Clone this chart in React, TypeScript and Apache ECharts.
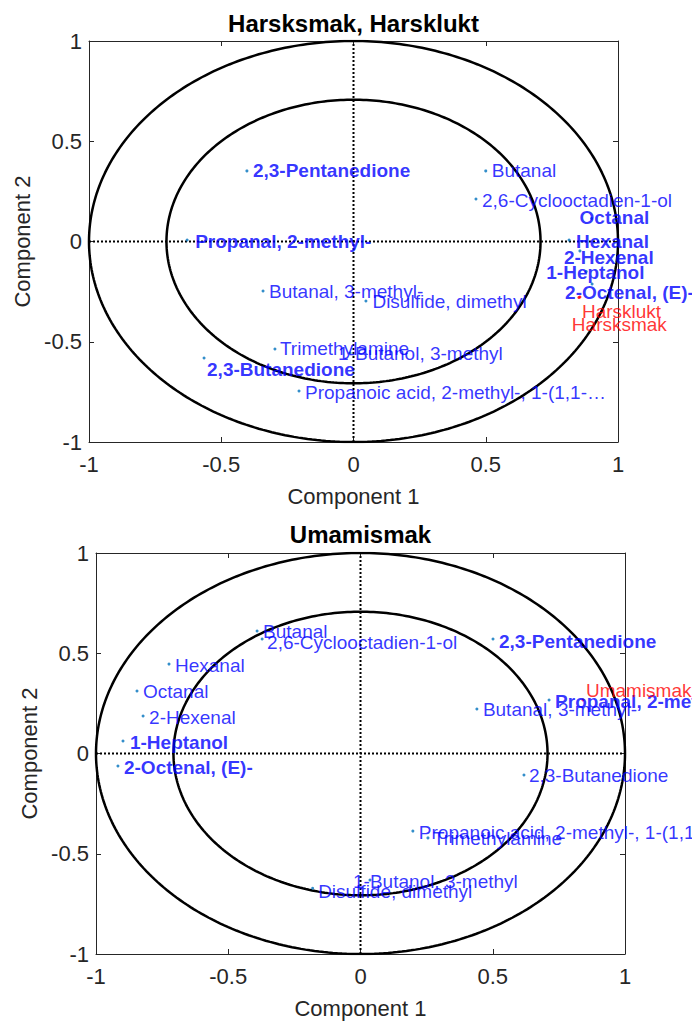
import React, { useEffect, useRef } from 'react';
import * as echarts from 'echarts';

// ---------- Top panel: Harsksmak, Harsklukt ----------
const topNames = [
  '2,3-Pentanedione', 'Butanal', '2,6-Cyclooctadien-1-ol', 'Octanal', 'Hexanal',
  '2-Hexenal', '1-Heptanol', '2-Octenal, (E)-', 'Propanal, 2-methyl-', 'Butanal, 3-methyl-',
  'Disulfide, dimethyl', 'Trimethylamine', '1-Butanol, 3-methyl', '2,3-Butanedione',
  'Propanoic acid, 2-methyl-, 1-(1,1-…',
];
const topX = [-0.403, 0.5, 0.463, 0.9, 0.815, 0.856, 0.88, 0.902, -0.629, -0.342, 0.047, -0.297, -0.013, -0.565, -0.206];
const topY = [0.352, 0.352, 0.212, 0.115, 0.007, -0.047, -0.15, -0.212, 0.007, -0.247, -0.297, -0.536, -0.556, -0.581, -0.746];
const topBold = [true, false, false, true, true, true, true, true, true, false, false, false, false, true, false];
const topAttrNames = ['Harsklukt', 'Harsksmak'];
const topAttrX = [0.856, 0.852];
const topAttrY = [-0.277, -0.279];

// label offsets (px) from each dot
const topLabelDx = [6, 6, 6, -12, 7, -16, -40, -27, 8, 6, 6.5, 5, -12, 3, 6];
const topLabelDy = [0, 0, 2, -0.5, 1, 7, 0.7, 8, 1.5, 0, 0.5, 0, 1, 12, 1];
const topAttrDx = [2, -7];
const topAttrDy = [14, 27];

// ---------- Bottom panel: Umamismak ----------
const botNames = [
  'Butanal', '2,6-Cyclooctadien-1-ol', 'Hexanal', 'Octanal', '2-Hexenal', '1-Heptanol',
  '2-Octenal, (E)-', '2,3-Pentanedione', 'Propanal, 2-methyl-', 'Butanal, 3-methyl-',
  '2,3-Butanedione', 'Propanoic acid, 2-methyl-, 1-(1,1-…', 'Trimethylamine',
  '1-Butanol, 3-methyl', 'Disulfide, dimethyl',
];
const botX = [-0.391, -0.372, -0.724, -0.845, -0.822, -0.898, -0.917, 0.501, 0.713, 0.44, 0.618, 0.198, 0.255, 0.036, -0.181];
const botY = [0.611, 0.571, 0.446, 0.312, 0.187, 0.062, -0.062, 0.571, 0.267, 0.222, -0.107, -0.387, -0.421, -0.631, -0.672];
const botBold = [false, false, false, false, false, true, true, true, true, false, false, false, false, false, false];
const botAttrNames = ['Umamismak'];
const botAttrX = [0.841];
const botAttrY = [0.267];

const botLabelDx = [6, 5, 6, 6, 6, 7, 6, 6, 6, 6, 5, 6, 5, -17, 5.5];
const botLabelDy = [1, 3, 1, 1, 1, 1, 2, 2, 2, 1, 1, 1, 1, 1.7, 3];
const botAttrDx = [3];
const botAttrDy = [-9];

const circleRadii = [1, Math.SQRT1_2];
const tickLabels = [-1, -0.5, 0, 0.5, 1];

const FONT = 'Liberation Sans, Arial, sans-serif';
const AXIS_COLOR = '#262626';
const DOT = 3;

function circlePoints(r: number) {
  const pts: number[][] = [];
  for (let i = 0; i <= 360; i++) {
    const a = (i * Math.PI) / 180;
    pts.push([r * Math.cos(a), r * Math.sin(a)]);
  }
  return pts;
}

function pointSeries(names: string[], xs: number[], ys: number[], bold: boolean[] | null,
  dx: number[], dy: number[], color: string, dotColor: string, axis: number) {
  return {
    type: 'scatter',
    xAxisIndex: axis,
    yAxisIndex: axis,
    symbol: 'circle',
    symbolSize: DOT,
    z: 5,
    itemStyle: { color: dotColor },
    data: names.map((n, i) => ({
      value: [xs[i], ys[i]],
      name: n,
      label: {
        show: true,
        position: 'right',
        distance: 0,
        offset: [dx[i] - DOT / 2, dy[i]],
        formatter: n,
        color,
        fontSize: 19,
        fontFamily: FONT,
        fontWeight: bold && bold[i] ? 'bold' : 'normal',
      },
    })),
  };
}

function panelSeries(axis: number) {
  const s: any[] = [];
  circleRadii.forEach((r) => {
    s.push({
      type: 'line',
      xAxisIndex: axis,
      yAxisIndex: axis,
      data: circlePoints(r),
      showSymbol: false,
      symbol: 'none',
      lineStyle: { color: '#000', width: 2.5 },
      z: 3,
      silent: true,
    });
  });
  s.push({
    type: 'line', xAxisIndex: axis, yAxisIndex: axis, symbol: 'none',
    data: [[-1, 0], [1, 0]], lineStyle: { color: '#000', width: 2, type: [2, 2] }, z: 2, silent: true,
  });
  s.push({
    type: 'line', xAxisIndex: axis, yAxisIndex: axis, symbol: 'none',
    data: [[0, -1], [0, 1]], lineStyle: { color: '#000', width: 2, type: [2, 2] }, z: 2, silent: true,
  });
  return s;
}

function xAxes(grid: number) {
  const base = {
    type: 'value', gridIndex: grid, min: tickLabels[0], max: tickLabels[tickLabels.length - 1], interval: 0.5,
    axisLine: { show: true, onZero: false, lineStyle: { color: AXIS_COLOR, width: 1 } },
    axisTick: { show: true, inside: true, length: 5, lineStyle: { color: AXIS_COLOR } },
    splitLine: { show: false },
  };
  return [
    {
      ...base, position: 'bottom',
      axisLabel: { show: true, fontSize: 22, color: AXIS_COLOR, fontFamily: FONT, margin: 11 },
      name: 'Component 1', nameLocation: 'middle', nameGap: 43,
      nameTextStyle: { fontSize: 22, color: AXIS_COLOR, fontFamily: FONT },
    },
    { ...base, position: 'top', axisLabel: { show: false } },
  ];
}

function yAxes(grid: number) {
  const base = {
    type: 'value', gridIndex: grid, min: tickLabels[0], max: tickLabels[tickLabels.length - 1], interval: 0.5,
    axisLine: { show: true, onZero: false, lineStyle: { color: AXIS_COLOR, width: 1 } },
    axisTick: { show: true, inside: true, length: 5, lineStyle: { color: AXIS_COLOR } },
    splitLine: { show: false },
  };
  return [
    {
      ...base, position: 'left',
      axisLabel: { show: true, fontSize: 22, color: AXIS_COLOR, fontFamily: FONT, margin: 7 },
      name: 'Component 2', nameLocation: 'middle', nameGap: 55,
      nameTextStyle: { fontSize: 22, color: AXIS_COLOR, fontFamily: FONT },
    },
    { ...base, position: 'right', axisLabel: { show: false } },
  ];
}

export default function App() {
  const ref = useRef<HTMLDivElement>(null);
  useEffect(() => {
    if (!ref.current) return;
    const chart = echarts.init(ref.current, undefined, { renderer: 'svg' });
    const grids = [
      { left: 89, top: 41, width: 529, height: 401 },
      { left: 96, top: 553, width: 529, height: 401 },
    ];
    const option: any = {
      animation: false,
      backgroundColor: '#fff',
      grid: grids,
      xAxis: [...xAxes(0), ...xAxes(1)],
      yAxis: [...yAxes(0), ...yAxes(1)],
      graphic: [
        {
          type: 'text', x: 89 + 529 / 2, y: 23,
          style: { text: 'Harsksmak, Harsklukt', fontSize: 24, fontWeight: 'bold', fontFamily: FONT, fill: '#000', textAlign: 'center', textVerticalAlign: 'middle' },
        },
        {
          type: 'text', x: 96 + 529 / 2, y: 534,
          style: { text: 'Umamismak', fontSize: 24, fontWeight: 'bold', fontFamily: FONT, fill: '#000', textAlign: 'center', textVerticalAlign: 'middle' },
        },
      ],
      series: [
        ...panelSeries(0),
        pointSeries(topNames, topX, topY, topBold, topLabelDx, topLabelDy, '#0000FF', '#0072BD', 0),
        pointSeries(topAttrNames, topAttrX, topAttrY, null, topAttrDx, topAttrDy, '#FF0000', '#FF0000', 0),
        ...panelSeries(2),
        pointSeries(botNames, botX, botY, botBold, botLabelDx, botLabelDy, '#0000FF', '#0072BD', 2),
        pointSeries(botAttrNames, botAttrX, botAttrY, null, botAttrDx, botAttrDy, '#FF0000', '#FF0000', 2),
      ],
    };
    chart.setOption(option);
    return () => chart.dispose();
  }, []);
  return (
    <div
      ref={ref}
      style={{ position: 'absolute', left: 0, top: 0, width: 692, height: 1023, background: '#fff' }}
    />
  );
}
